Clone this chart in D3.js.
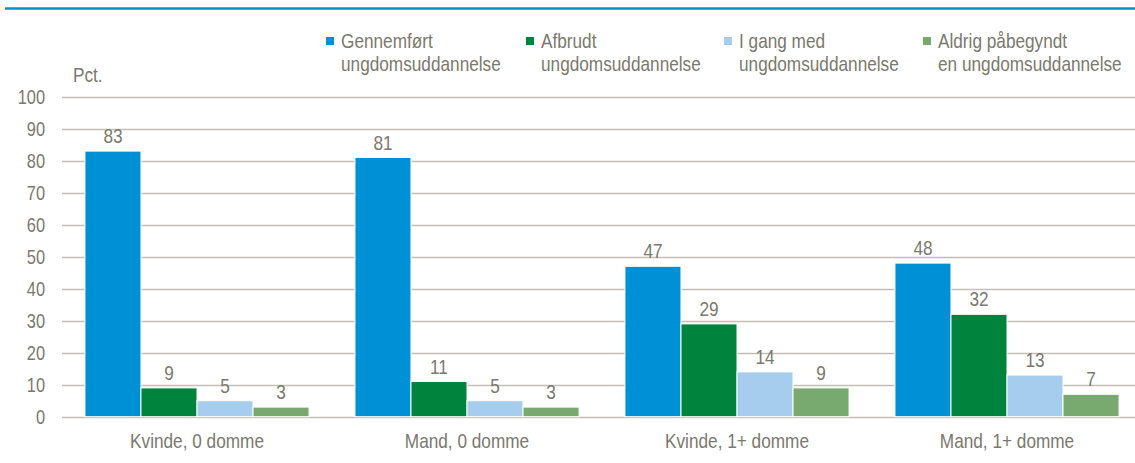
<!DOCTYPE html>
<html><head><meta charset="utf-8">
<script src="https://cdn.jsdelivr.net/npm/d3@7"></script>
<style>
html,body{margin:0;padding:0;background:#fff;}
svg{display:block;font-family:"Liberation Sans","Arial",sans-serif;}
</style></head>
<body>
<svg id="chart" width="1135" height="463"></svg>
<script>
const categories = ["Kvinde, 0 domme", "Mand, 0 domme", "Kvinde, 1+ domme", "Mand, 1+ domme"];
const seriesNames = [["Gennemført", "ungdomsuddannelse"], ["Afbrudt", "ungdomsuddannelse"], ["I gang med", "ungdomsuddannelse"], ["Aldrig påbegyndt", "en ungdomsuddannelse"]];
const gennemfoert = [83, 81, 47, 48];
const afbrudt = [9, 11, 29, 32];
const iGang = [5, 5, 14, 13];
const aldrig = [3, 3, 9, 7];
const yTicks = [0, 10, 20, 30, 40, 50, 60, 70, 80, 90, 100];
const colors = ["#0090d6", "#00843d", "#a6cdee", "#78a96e"];

const series = [gennemfoert, afbrudt, iGang, aldrig];
const svg = d3.select("#chart");
const textColor = "#7a796d";
const gridColor = "#c2c0b6";
const SX = 0.82; // narrow-font emulation
const narrow = (x, y) => `translate(${x},${y}) scale(${SX},1)`;

// top rule
svg.append("line").attr("x1", 5).attr("x2", 1135).attr("y1", 8.5).attr("y2", 8.5)
  .attr("stroke", "#0092d4").attr("stroke-width", 2.5);

const y = d3.scaleLinear().domain([0, 100]).range([416.7, 96.7]);
const x0 = d3.scaleBand().domain(categories).range([62, 1142]).paddingInner(0.17).paddingOuter(0.085);
const x1 = d3.scaleBand().domain(d3.range(series.length)).range([0, x0.bandwidth()]);

// gridlines
svg.append("g").selectAll("line").data(yTicks).join("line")
  .attr("x1", 62).attr("x2", 1135)
  .attr("y1", d => Math.round(y(d)) + 0.5).attr("y2", d => Math.round(y(d)) + 0.5)
  .attr("stroke", gridColor).attr("stroke-width", 1.5);

// y axis labels
const yAxis = d3.axisLeft(y).tickValues(yTicks).tickSize(0).tickPadding(0);
const ya = svg.append("g").attr("transform", "translate(45,0)").call(yAxis);
ya.select(".domain").remove();
ya.selectAll("text").attr("fill", textColor).style("font-size", "20px")
  .style("font-family", '"Liberation Sans",Arial,sans-serif').attr("dy", "0.36em")
  .attr("transform", `scale(${SX},1)`);

svg.append("text").attr("transform", narrow(73, 82)).attr("fill", textColor)
  .style("font-size", "21px").text("Pct.");

// bars
const groups = svg.append("g").selectAll("g").data(categories).join("g")
  .attr("transform", d => `translate(${x0(d)},0)`);
groups.each(function(cat, ci) {
  const g = d3.select(this);
  const vals = series.map((s, si) => ({si, v: s[ci]}));
  g.selectAll("rect").data(vals).join("rect")
    .attr("x", d => x1(d.si)).attr("width", x1.bandwidth())
    .attr("y", d => y(d.v)).attr("height", d => y(0) - y(d.v))
    .attr("fill", d => colors[d.si]).attr("stroke", "#fff").attr("stroke-width", 1);
  g.selectAll("text").data(vals).join("text")
    .attr("transform", d => narrow(x1(d.si) + x1.bandwidth() / 2, y(d.v) - 8))
    .attr("text-anchor", "middle").attr("fill", textColor).style("font-size", "21px")
    .text(d => d.v);
});

// category labels
const xAxis = d3.axisBottom(x0).tickSize(0).tickPadding(0);
const xa = svg.append("g").attr("transform", "translate(0,448)").call(xAxis);
xa.select(".domain").remove();
xa.selectAll("text").attr("fill", textColor).attr("dy", 0).style("font-size", "21px")
  .style("font-family", '"Liberation Sans",Arial,sans-serif')
  .attr("transform", `scale(${SX},1)`);

// legend
const legendX = [326, 526, 724, 923];
const leg = svg.append("g").selectAll("g").data(seriesNames).join("g")
  .attr("transform", (d, i) => `translate(${legendX[i]},0)`);
leg.append("rect").attr("x", 0).attr("y", 37).attr("width", 8).attr("height", 8)
  .attr("fill", (d, i) => colors[i]);
leg.append("text").attr("transform", narrow(15, 48)).attr("fill", textColor).style("font-size", "21px")
  .text(d => d[0]);
leg.append("text").attr("transform", narrow(15, 71)).attr("fill", textColor).style("font-size", "21px")
  .text(d => d[1]);
</script>
</body></html>
